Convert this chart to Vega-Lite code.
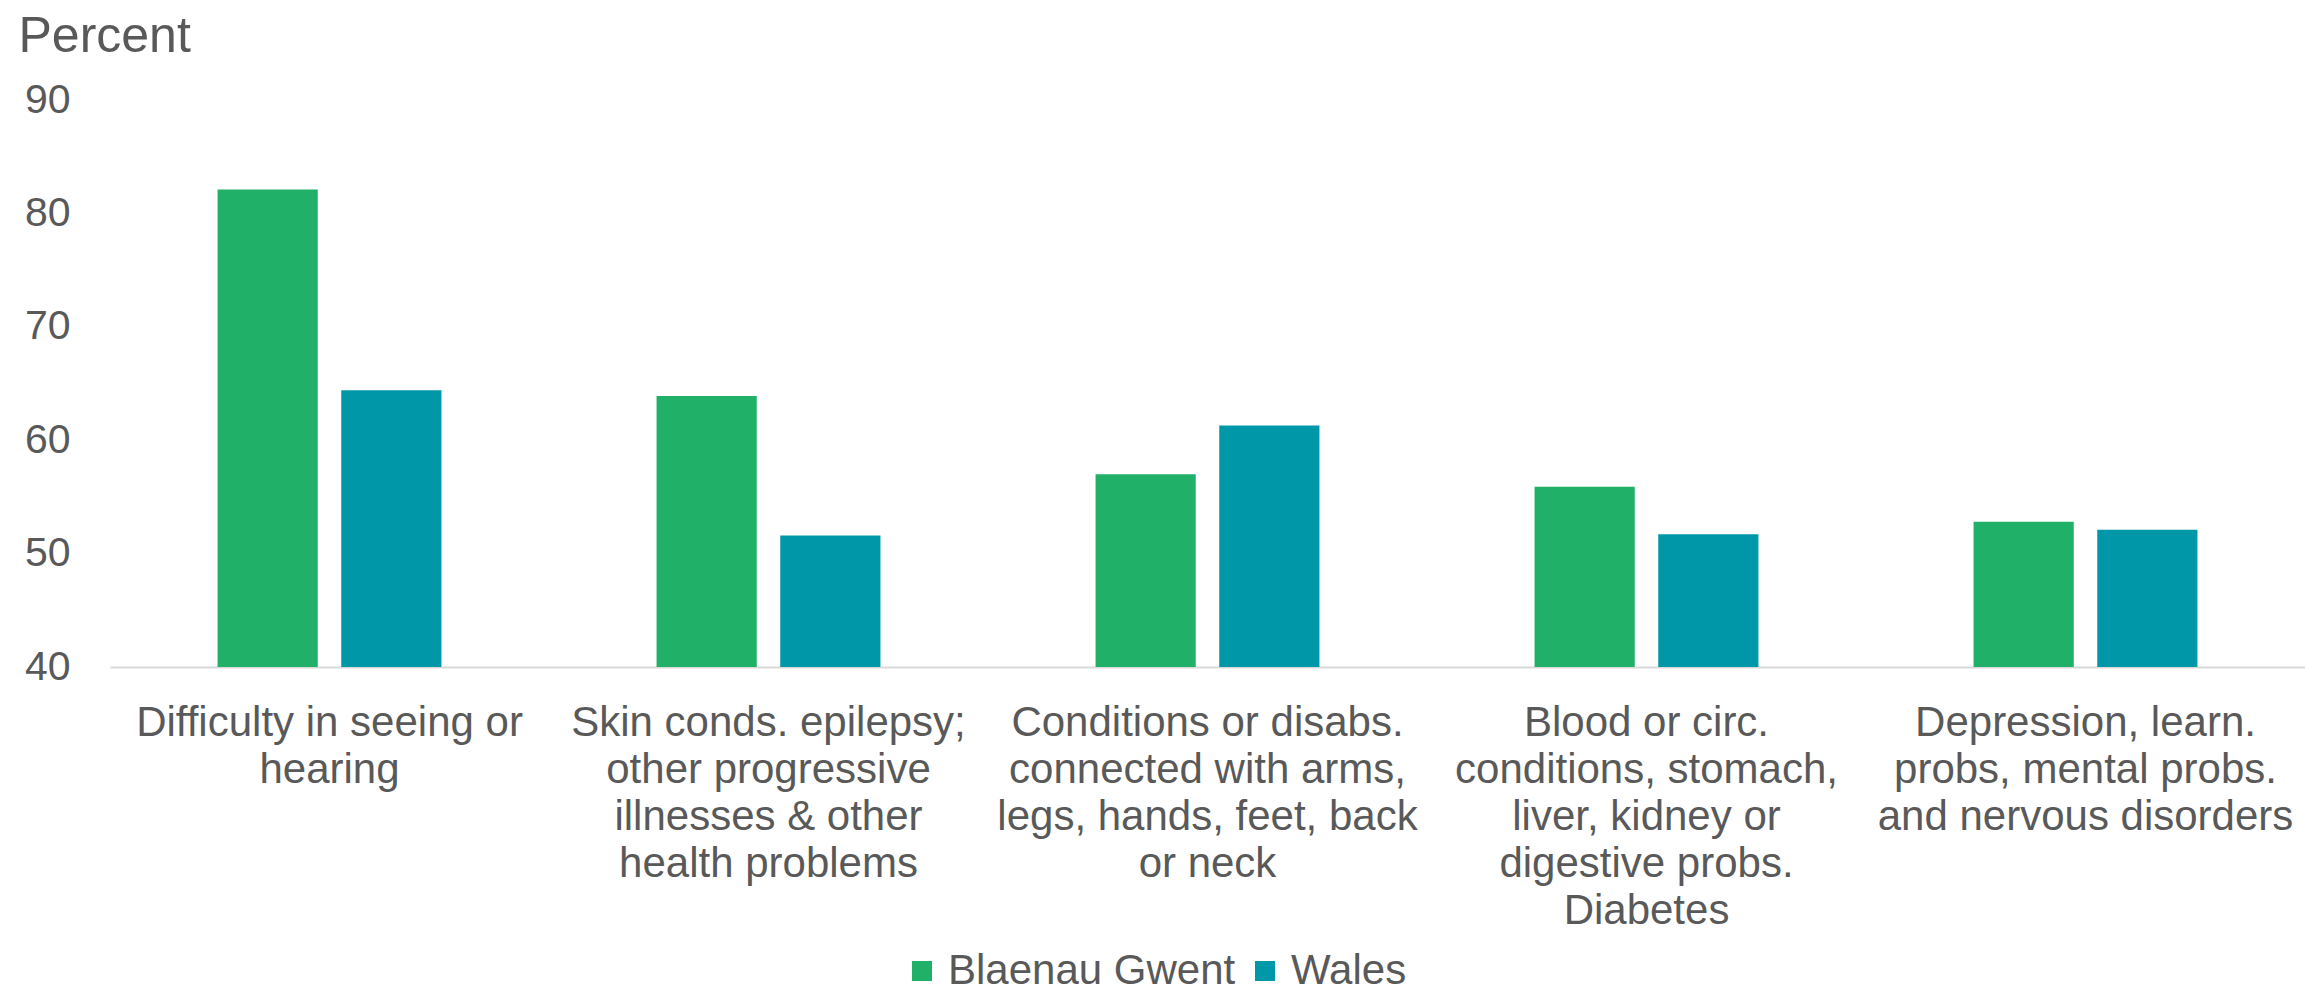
{
  "$schema": "https://vega.github.io/schema/vega-lite/v6.json",
  "width": 2195,
  "height": 567,
  "autosize": {"type": "none"},
  "padding": {"left": 110, "top": 100, "right": 0, "bottom": 331},
  "background": "white",
  "data": {
    "values": [
      {"cat": "Difficulty in seeing or|hearing", "series": "Blaenau Gwent", "value": 82.1},
      {"cat": "Difficulty in seeing or|hearing", "series": "Wales", "value": 64.4},
      {"cat": "Skin conds. epilepsy;|other progressive|illnesses & other|health problems", "series": "Blaenau Gwent", "value": 63.9},
      {"cat": "Skin conds. epilepsy;|other progressive|illnesses & other|health problems", "series": "Wales", "value": 51.6},
      {"cat": "Conditions or disabs.|connected with arms,|legs, hands, feet, back|or neck", "series": "Blaenau Gwent", "value": 57.0},
      {"cat": "Conditions or disabs.|connected with arms,|legs, hands, feet, back|or neck", "series": "Wales", "value": 61.3},
      {"cat": "Blood or circ.|conditions, stomach,|liver, kidney or|digestive probs.|Diabetes", "series": "Blaenau Gwent", "value": 55.9},
      {"cat": "Blood or circ.|conditions, stomach,|liver, kidney or|digestive probs.|Diabetes", "series": "Wales", "value": 51.7},
      {"cat": "Depression, learn.|probs, mental probs.|and nervous disorders", "series": "Blaenau Gwent", "value": 52.8},
      {"cat": "Depression, learn.|probs, mental probs.|and nervous disorders", "series": "Wales", "value": 52.1}
    ]
  },
  "mark": {"type": "bar"},
  "encoding": {
    "x": {
      "field": "cat",
      "type": "nominal",
      "sort": null,
      "scale": {"paddingInner": 0.49, "paddingOuter": 0.245},
      "axis": {
        "title": null,
        "labelAngle": 0,
        "labelExpr": "split(datum.label, '|')",
        "labelFont": "Liberation Sans",
        "labelFontSize": 42,
        "labelColor": "#595959",
        "labelLineHeight": 47,
        "labelBaseline": "top",
        "labelPadding": 35,
        "labelLimit": 0,
        "ticks": false,
        "tickSize": 0,
        "domain": true,
        "domainColor": "#D9D9D9",
        "domainWidth": 2,
        "grid": false
      }
    },
    "xOffset": {
      "field": "series",
      "type": "nominal",
      "scale": {"paddingInner": 0.19, "paddingOuter": 0}
    },
    "y": {
      "field": "value",
      "type": "quantitative",
      "scale": {"domain": [40, 90], "nice": false, "zero": false},
      "axis": {
        "title": "Percent",
        "titleAngle": 0,
        "titleAlign": "left",
        "titleBaseline": "alphabetic",
        "titleX": -92,
        "titleY": -49,
        "titleFont": "Liberation Sans",
        "titleFontSize": 50,
        "titleFontWeight": "normal",
        "titleColor": "#595959",
        "values": [40, 50, 60, 70, 80, 90],
        "labelFont": "Liberation Sans",
        "labelFontSize": 41,
        "labelColor": "#595959",
        "labelPadding": 40,
        "ticks": false,
        "tickSize": 0,
        "domain": false,
        "grid": false
      }
    },
    "y2": {"datum": 40},
    "color": {
      "field": "series",
      "type": "nominal",
      "scale": {"domain": ["Blaenau Gwent", "Wales"], "range": ["#21B067", "#0097A9"]},
      "legend": {
        "title": null,
        "orient": "none",
        "legendX": 791,
        "legendY": 850,
        "direction": "horizontal",
        "symbolType": "square",
        "symbolSize": 400,
        "symbolStrokeWidth": 0,
        "symbolOpacity": 1,
        "labelFont": "Liberation Sans",
        "labelFontSize": 42,
        "labelColor": "#595959",
        "labelOffset": 5,
        "columnPadding": 8,
        "labelLimit": 0
      }
    }
  },
  "config": {"view": {"stroke": null}}
}
